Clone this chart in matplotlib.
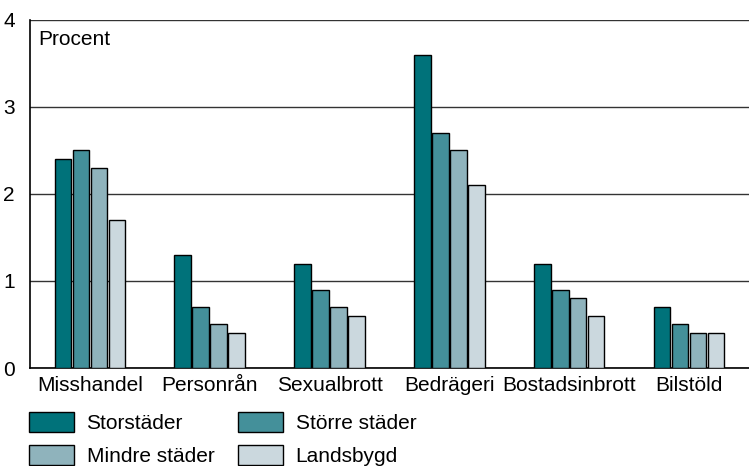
import numpy as np
import matplotlib.pyplot as plt

plt.rcParams['font.family'] = ['Liberation Sans', 'DejaVu Sans']

# kategorier och värden (procent)
kategorier = ['Misshandel', 'Personrån', 'Sexualbrott', 'Bedrägeri', 'Bostadsinbrott', 'Bilstöld']
storstader = [2.4, 1.3, 1.2, 3.6, 1.2, 0.7]
storre_stader = [2.5, 0.7, 0.9, 2.7, 0.9, 0.5]
mindre_stader = [2.3, 0.5, 0.7, 2.5, 0.8, 0.4]
landsbygd = [1.7, 0.4, 0.6, 2.1, 0.6, 0.4]

serier = ['Storstäder', 'Större städer', 'Mindre städer', 'Landsbygd']
farger = ['#00727a', '#44909a', '#8fb3bc', '#cbd8de']

fs = 15

fig = plt.figure(figsize=(7.49, 4.66), dpi=100)
ax = fig.add_axes([0.040, 0.2103, 0.960, 0.7468])

x = np.arange(len(kategorier))
bredd = 0.15
varden = [storstader, storre_stader, mindre_stader, landsbygd]
staplar = []
for i, v in enumerate(varden):
    b = ax.bar(x + (i - 1.5) * bredd, v, width=bredd * 0.92, color=farger[i],
               edgecolor='black', linewidth=1, label=serier[i], zorder=3)
    staplar.append(b)

ax.set_xlim(-0.5, 5.5)
ax.set_ylim(0, 4)
ax.set_yticks([0, 1, 2, 3, 4])
ax.set_xticks(x)
ax.set_xticklabels(kategorier)
ax.tick_params(length=0, labelsize=fs)
ax.tick_params(axis='y', pad=11)
ax.tick_params(axis='x', pad=6)
ax.yaxis.grid(True, color='#333333', linewidth=1, zorder=0)
for s in ['top', 'right']:
    ax.spines[s].set_visible(False)
ax.spines['left'].set_linewidth(1.2)
ax.spines['bottom'].set_linewidth(1.2)

ax.text(0.011, 0.972, 'Procent', transform=ax.transAxes, fontsize=fs, va='top', ha='left')

# radvis ordning i legenden
ordning = [0, 2, 1, 3]
fig.legend([staplar[i] for i in ordning], [serier[i] for i in ordning],
           ncol=2, loc='upper left', bbox_to_anchor=(0.039, 0.115), frameon=False,
           fontsize=fs, handlelength=2.15, handleheight=1.1, handletextpad=0.6,
           columnspacing=1.15, labelspacing=0.55, borderaxespad=0, borderpad=0)

plt.savefig('out.png', dpi=100)
